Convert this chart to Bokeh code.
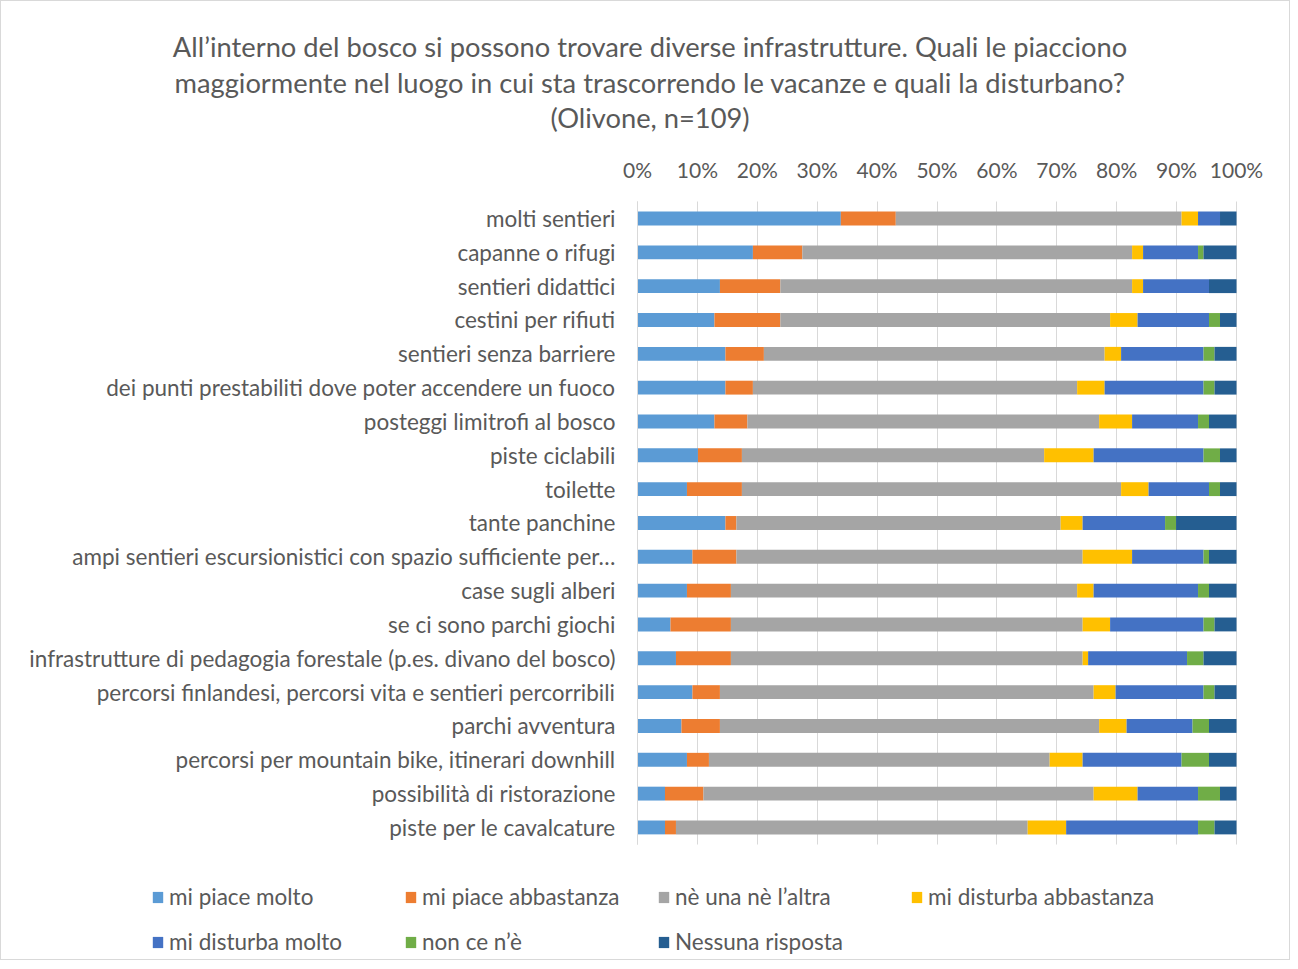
from bokeh.plotting import figure
from bokeh.models import (ColumnDataSource, Range1d, FixedTicker, LinearAxis, Grid,
                          NumeralTickFormatter, Legend, LegendItem, Label)
from bokeh.embed import file_html
from bokeh.resources import INLINE

N = 109
categories = [
    "molti sentieri",
    "capanne o rifugi",
    "sentieri didattici",
    "cestini per rifiuti",
    "sentieri senza barriere",
    "dei punti prestabiliti dove poter accendere un fuoco",
    "posteggi limitrofi al bosco",
    "piste ciclabili",
    "toilette",
    "tante panchine",
    "ampi sentieri escursionistici con spazio sufficiente per…",
    "case sugli alberi",
    "se ci sono parchi giochi",
    "infrastrutture di pedagogia forestale (p.es. divano del bosco)",
    "percorsi finlandesi, percorsi vita e sentieri percorribili",
    "parchi avventura",
    "percorsi per mountain bike, itinerari downhill",
    "possibilità di ristorazione",
    "piste per le cavalcature",
]
series_names = ["mi piace molto", "mi piace abbastanza", "nè una nè l’altra",
                "mi disturba abbastanza", "mi disturba molto", "non ce n’è",
                "Nessuna risposta"]
piace_molto = [37, 21, 15, 14, 16, 16, 14, 11, 9, 16, 10, 9, 6, 7, 10, 8, 9, 5, 5]
piace_abbastanza = [10, 9, 11, 12, 7, 5, 6, 8, 10, 2, 8, 8, 11, 10, 5, 7, 4, 7, 2]
ne_una_ne_altra = [52, 60, 64, 60, 62, 59, 64, 55, 69, 59, 63, 63, 64, 64, 68, 69, 62, 71, 64]
disturba_abbastanza = [3, 2, 2, 5, 3, 5, 6, 9, 5, 4, 9, 3, 5, 1, 4, 5, 6, 8, 7]
disturba_molto = [4, 10, 12, 13, 15, 18, 12, 20, 11, 15, 13, 19, 17, 18, 16, 12, 18, 11, 24]
non_ce = [0, 1, 0, 2, 2, 2, 2, 3, 2, 2, 1, 2, 2, 3, 2, 3, 5, 4, 3]
nessuna_risposta = [3, 6, 5, 3, 4, 4, 5, 3, 3, 11, 5, 5, 4, 6, 4, 5, 5, 3, 4]
x_ticks = [0, 0.1, 0.2, 0.3, 0.4, 0.5, 0.6, 0.7, 0.8, 0.9, 1.0]
title_lines = [
    "All’interno del bosco si possono trovare diverse infrastrutture. Quali le piacciono",
    "maggiormente nel luogo in cui sta trascorrendo le vacanze e quali la disturbano?",
    "(Olivone, n=109)",
]

colors = ["#5B9BD5", "#ED7D31", "#A5A5A5", "#FFC000", "#4472C4", "#70AD47", "#255E91"]
keys = ["s0", "s1", "s2", "s3", "s4", "s5", "s6"]
all_series = [piace_molto, piace_abbastanza, ne_una_ne_altra, disturba_abbastanza,
              disturba_molto, non_ce, nessuna_risposta]

n = len(categories)
ypos = [n - 1 - i for i in range(n)]          # first category on top
data = {"cat": categories, "y": ypos}
for k, s in zip(keys, all_series):
    data[k] = [v / N for v in s]
source = ColumnDataSource(data)

FONT = "Lato"
TXT = "#595959"
GRID = "#D9D9D9"

# ---- layout (pixels inside the canvas) ----
W, H = 1290, 960
PX = 599.0            # pixels for 0..100 %
PY = 33.83            # pixels per category row
LEFT_PX = 636         # x pixel of 0 %
TOP_ROW_PX = 217      # y pixel of first row centre
x0 = -LEFT_PX / PX
y_top = (n - 1) + TOP_ROW_PX / PY


def xd(px):
    return x0 + px / PX


def yd(py):
    return y_top - py / PY


p = figure(width=W, height=H, output_backend="svg", toolbar_location=None,
           x_range=Range1d(x0, x0 + W / PX), y_range=Range1d(y_top - H / PY, y_top),
           x_axis_type=None, y_axis_type=None,
           min_border_left=0, min_border_right=0, min_border_top=0, min_border_bottom=0)
p.styles = {"border": "1px solid #D9D9D9"}
p.outline_line_color = None
p.background_fill_color = "white"
p.border_fill_color = "white"

# vertical grid lines limited to the plot area
y_lo, y_hi = -0.5, n - 0.5
xtick = FixedTicker(ticks=x_ticks)
if "cross_bounds" in Grid.properties():
    g = Grid(dimension=0, ticker=xtick, grid_line_color=GRID, grid_line_width=1,
             cross_bounds=(y_lo, y_hi))
    p.add_layout(g)
else:
    p.segment(x0=x_ticks, y0=[y_lo] * len(x_ticks), x1=x_ticks, y1=[y_hi] * len(x_ticks),
              line_color=GRID, line_width=1)

renderers = p.hbar_stack(keys, y="y", height=0.41, color=colors, source=source,
                         line_color=None)

xaxis = LinearAxis(ticker=xtick, formatter=NumeralTickFormatter(format="0%"),
                   fixed_location=y_hi, bounds=(0, 1))
xaxis.axis_line_color = None
xaxis.major_tick_line_color = None
xaxis.minor_tick_line_color = None
xaxis.major_tick_out = 0
xaxis.major_tick_in = 0
xaxis.major_label_standoff = 20
xaxis.major_label_text_font = FONT
xaxis.major_label_text_font_size = "21px"
xaxis.major_label_text_color = TXT
p.add_layout(xaxis, "above")

yaxis = LinearAxis(ticker=FixedTicker(ticks=ypos), fixed_location=0, bounds=(y_lo, y_hi),
                   major_label_overrides={y: c for y, c in zip(ypos, categories)})
yaxis.axis_line_color = GRID
yaxis.major_tick_line_color = None
yaxis.minor_tick_line_color = None
yaxis.major_tick_out = 0
yaxis.major_tick_in = 0
yaxis.major_label_standoff = 22
yaxis.major_label_text_font = FONT
yaxis.major_label_text_font_size = "22.5px"
yaxis.major_label_text_color = TXT
p.add_layout(yaxis, "left")

for line, ty in zip(title_lines, [45, 81, 116]):
    p.add_layout(Label(x=xd(648.5), y=yd(ty), text=line, text_align="center",
                       text_baseline="middle", text_font=FONT,
                       text_font_size="27.3px", text_color=TXT))

items = [LegendItem(label=nm, renderers=[r]) for nm, r in zip(series_names, renderers)]
legend = Legend(items=items, location=(150, 6), orientation="horizontal", ncols=4,
                glyph_width=13, glyph_height=14, label_standoff=5, label_width=217,
                label_height=24, spacing=18, padding=0, margin=0,
                border_line_color=None, background_fill_alpha=0,
                label_text_font=FONT, label_text_font_size="22.5px",
                label_text_color=TXT)
p.add_layout(legend)

open("out.html", "w").write(file_html(p, INLINE))
